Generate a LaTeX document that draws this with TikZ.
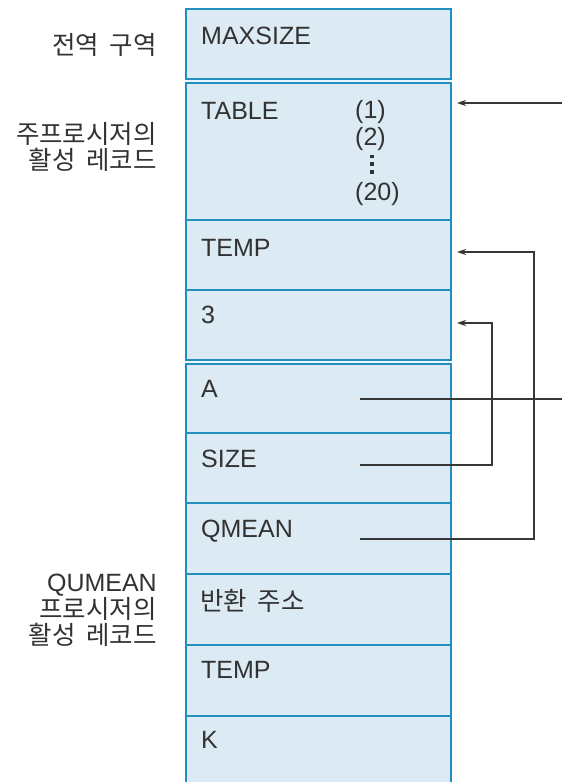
\documentclass[tikz,border=0pt]{standalone}
\usepackage{fontspec}
\setmainfont{Liberation Sans}
\newfontfamily\kr{Noto Sans CJK KR}
\usetikzlibrary{arrows.meta}
\definecolor{cellfill}{RGB}{220,234,243}
\definecolor{gapfill}{RGB}{236,245,250}
\definecolor{cellline}{RGB}{34,143,192}
\definecolor{txt}{RGB}{50,50,50}
\definecolor{wirecol}{RGB}{55,55,55}
\newcommand{\wsp}{\hspace{0.42em}}
\begin{document}
\begin{tikzpicture}[x=1pt,y=-1pt,
  cell/.style={draw=cellline, line width=1.9pt, fill=cellfill, inner sep=0pt,
               minimum width=265pt, anchor=north west},
  lab/.style={font=\fontsize{25}{28}\selectfont, text=txt, anchor=base west, inner sep=0pt},
  sidelab/.style={text=txt, align=right, anchor=east, inner sep=0pt},
  wire/.style={draw=wirecol, line width=1.2pt},
  tip/.style={-{Stealth[length=9pt,width=6pt]}}
]
\useasboundingbox (0,0) rectangle (562,782);
\fill[white] (0,0) rectangle (562,782);
% stack background (visible in double-line gaps)
\fill[gapfill] (185,8) rectangle (450,790);
% cells
\node[cell, minimum height=70pt]  (cmax)   at (185,8)   {};
\node[cell, minimum height=137pt] (ctable) at (185,82)  {};
\node[cell, minimum height=70pt]  (ctemp)  at (185,219) {};
\node[cell, minimum height=70pt]  (cthree) at (185,289) {};
\node[cell, minimum height=69pt]  (ca)     at (185,363) {};
\node[cell, minimum height=70pt]  (csize)  at (185,432) {};
\node[cell, minimum height=71pt]  (cqmean) at (185,502) {};
\node[cell, minimum height=71pt]  (cret)   at (185,573) {};
\node[cell, minimum height=71pt]  (ctempb) at (185,644) {};
\node[cell, minimum height=90pt]  (ck)     at (185,715) {};
% cell texts
\node[lab] (tmax)   at (201,44)  {MAXSIZE};
\node[lab] (ttable) at (201,119) {TABLE};
\node[lab] (tone)   at (355,118) {(1)};
\node[lab] (ttwo)   at (355,145) {(2)};
\node[lab] (ttw)    at (355,200) {(20)};
\fill[txt] (370.3,154.5) rectangle (374.2,158.4);
\fill[txt] (370.3,162.2) rectangle (374.2,166.1);
\fill[txt] (370.3,169.9) rectangle (374.2,173.8);
\node[lab] (ttemp)  at (201,256) {TEMP};
\node[lab] (tthree) at (201,323) {3};
\node[lab] (ta)     at (201,397) {A};
\node[lab] (tsize)  at (201,467) {SIZE};
\node[lab] (tqmean) at (201,537) {QMEAN};
\node[lab, font=\kr\fontsize{25.5}{28}\selectfont] (tret) at (200,610) {반환\wsp 주소};
\node[lab] (ttempb) at (201,678) {TEMP};
\node[lab] (tk)     at (201,748) {K};
% side labels
\node[sidelab, font=\kr\fontsize{25.5}{26}\selectfont] (sglob) at (157,45) {전역\wsp 구역};
\node[sidelab, font=\kr\fontsize{25.5}{26.5}\selectfont] (smain) at (157,147) {주프로시저의\\활성\wsp 레코드};
\node[sidelab, font=\kr\fontsize{25.5}{25.8}\selectfont] (sq) at (157,610)
  {{\rmfamily\fontsize{25}{25.8}\selectfont QUMEAN}\\프로시저의\\활성\wsp 레코드};
% connector coordinates
\coordinate (tableIn)  at (457,103);
\coordinate (tableSrc) at (562,103);
\coordinate (tempIn)   at (457,252);
\coordinate (threeIn)  at (457,323);
\coordinate (aSrc)     at (360,399);
\coordinate (aEnd)     at (562,399);
\coordinate (sizeSrc)  at (360,465);
\coordinate (qmeanSrc) at (360,539);
\coordinate (elbowS)   at (492,0);
\coordinate (elbowQ)   at (534,0);
% connectors
\draw[wire,tip] (tableSrc) -- (tableIn);
\draw[wire] (aSrc) -- (aEnd);
\draw[wire,tip] (sizeSrc) -- (sizeSrc -| elbowS) -- (threeIn -| elbowS) -- (threeIn);
\draw[wire,tip] (qmeanSrc) -- (qmeanSrc -| elbowQ) -- (tempIn -| elbowQ) -- (tempIn);
\end{tikzpicture}
\end{document}
